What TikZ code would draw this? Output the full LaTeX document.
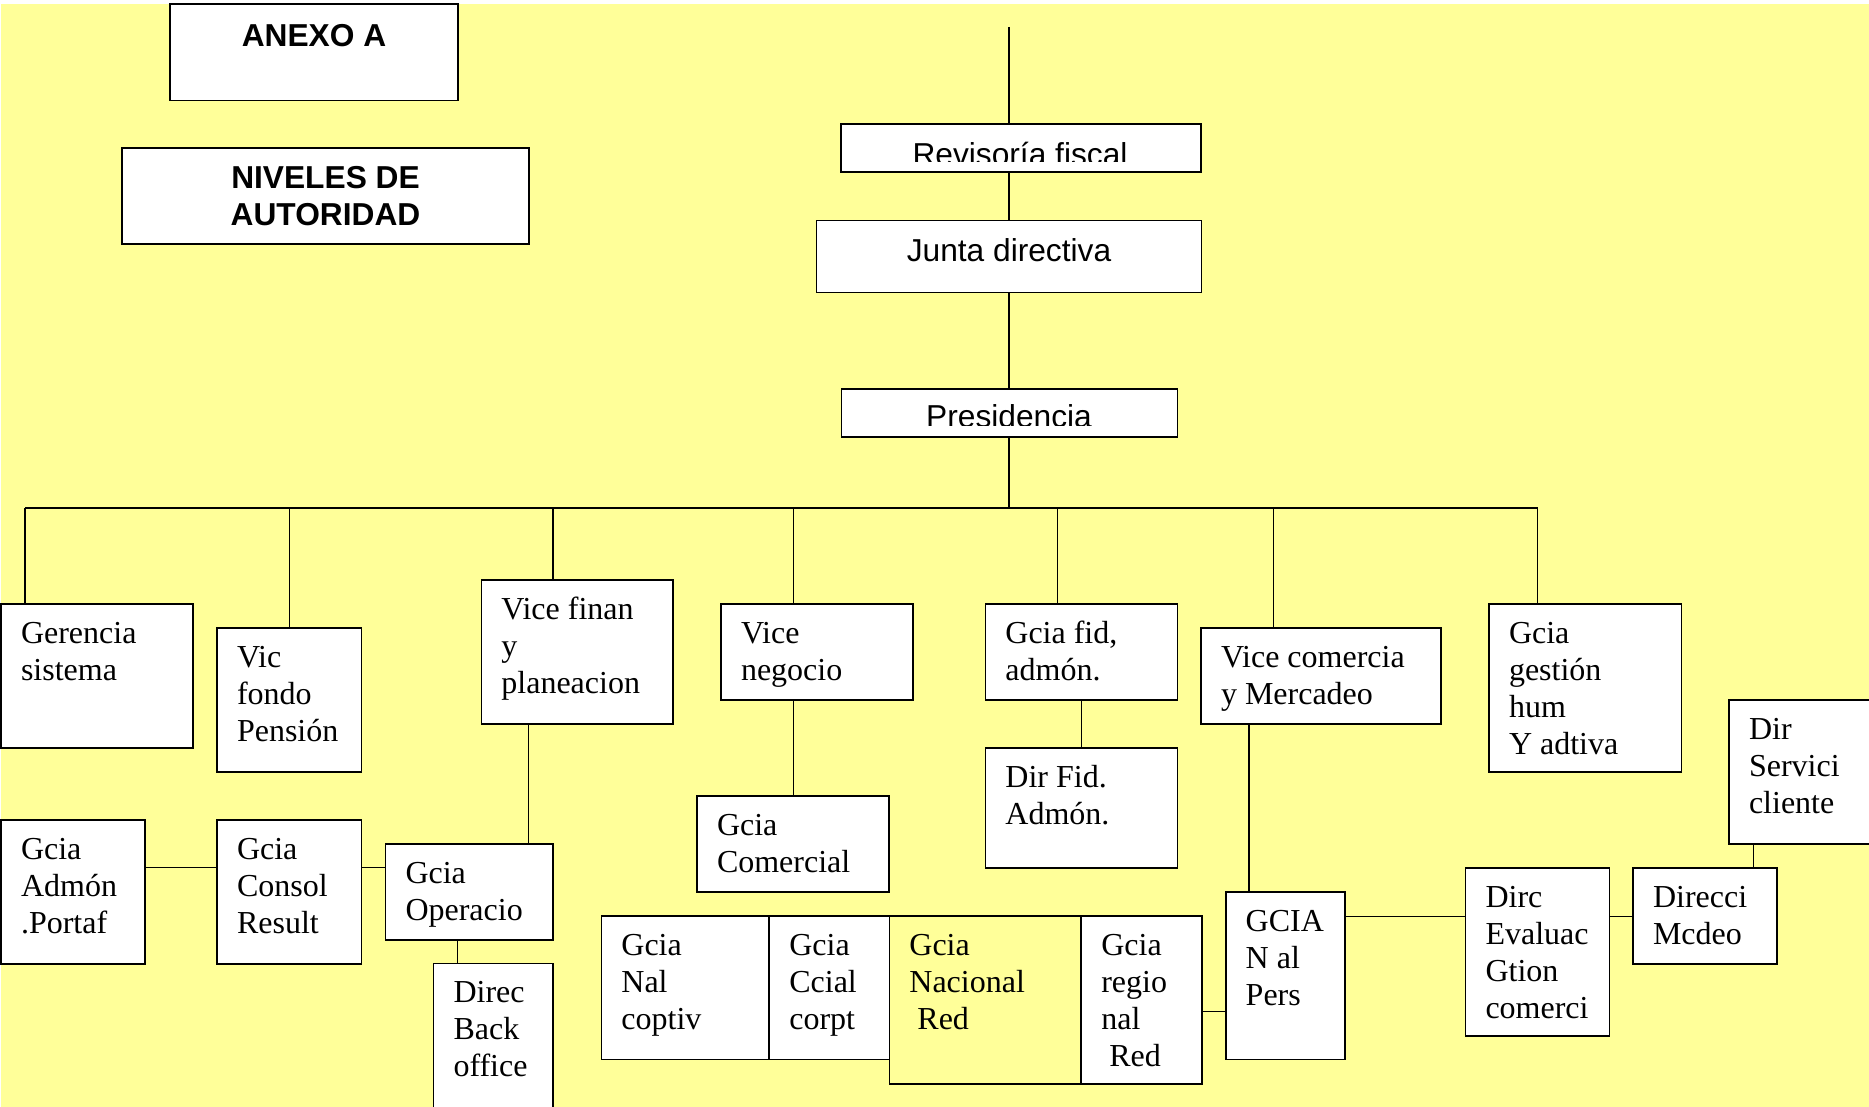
\documentclass[tikz,border=0pt]{standalone}
\usepackage{fontspec}
\setmainfont{Liberation Serif}
\newfontfamily\arialf{Liberation Sans}
\usetikzlibrary{calc}
\definecolor{bgyellow}{HTML}{FFFF99}
\tikzset{
  box/.style={draw=black, line width=1.8pt, fill=white, rectangle, inner sep=0pt, outer sep=0pt, anchor=north west},
  openbox/.style={box, fill=none},
  txt/.style={anchor=north west, inner sep=0pt, outer sep=0pt, align=left, font=\fontsize{32}{37}\selectfont},
  htxt/.style={inner sep=0pt, outer sep=0pt, align=center, font=\arialf\fontsize{31.7}{37.4}\selectfont},
  htxtb/.style={inner sep=0pt, outer sep=0pt, align=center, font=\arialf\bfseries\fontsize{31.7}{37.4}\selectfont},
  conn/.style={draw=black, line width=1.3pt},
}
\newcommand{\fs}{\rule{0pt}{25pt}}
\newcommand{\obox}[7][box]{%
  \node[#1, minimum width=#5pt, minimum height=#6pt] (#2) at (#3,#4) {};
  \node[txt] (#2-t) at ([xshift=20pt,yshift=-14pt]#2.north west) {\fs#7};
}
\begin{document}
\begin{tikzpicture}[x=1pt,y=-1pt]
\useasboundingbox (0,0) rectangle (1869,1107);
\clip (0,0) rectangle (1869,1107);
\fill[white] (0,0) rectangle (1869,1107);
\fill[bgyellow] (1,4) rectangle (1869,1107);

% headings
\node[box, minimum width=288pt, minimum height=96.5pt] (anexo) at (170,4) {};
\node[htxtb, anchor=base] (anexo-t) at (314,46.5) {ANEXO A};
\node[box, minimum width=407pt, minimum height=96pt] (niv) at (122,148) {};
\node[htxtb, anchor=north] (niv-t) at (325.5,163.3) {\fs NIVELES DE\\AUTORIDAD};

% top chain
\node[box, minimum width=360pt, minimum height=48pt] (rev) at (841,124) {};
\begin{scope}
  \clip (841,124) rectangle (1201,161.7);
  \node[htxt, anchor=base] (rev-t) at (1020,165.8) {Revisoría fiscal};
\end{scope}
\node[box, minimum width=385pt, minimum height=72pt] (junta) at (816.5,220.5) {};
\node[htxt, anchor=base] (junta-t) at (1009,261.5) {Junta directiva};
\node[box, minimum width=336pt, minimum height=48pt] (pres) at (841.5,388.6) {};
\begin{scope}
  \clip (841.5,388.6) rectangle (1178,425);
  \node[htxt, anchor=base] (pres-t) at (1009,427.5) {Presidencia};
\end{scope}

% second level
\obox{gs}{1}{604}{192}{144}{Gerencia\\sistema}
\obox{vf}{217}{628}{144.5}{144}{Vic\\fondo\\Pensión}
\obox{vfp}{481.4}{580}{191.3}{144}{Vice finan\\y\\planeacion}
\obox{vn}{721}{604}{192}{96}{Vice\\negocio}
\obox{gf}{985.4}{604}{192}{96}{Gcia fid,\\admón.}
\obox{vc}{1201}{628}{240}{96}{Vice comercia\\y Mercadeo}
\obox{gg}{1489}{604}{192.5}{168}{Gcia\\gestión\\hum\\Y adtiva}
\obox{ds}{1729}{700}{200}{144}{Dir\\Servici\\cliente}

% lower levels
\obox{gc}{697}{796}{192}{96}{Gcia\\Comercial}
\obox{df}{985.4}{748}{192}{120}{Dir Fid.\\Admón.}
\obox{ga}{1}{820}{144}{144}{Gcia\\Admón\\.Portaf}
\obox{gcr}{217}{820}{144.5}{144}{Gcia\\Consol\\Result}
\obox{go}{385.5}{844}{167.3}{96}{Gcia\\Operacio}
\obox{db}{433.5}{963.4}{119.3}{200}{Direc\\Back\\office}
\obox[openbox]{gnr}{889.4}{916}{192}{168}{Gcia\\Nacional\\\hspace*{8pt}Red}
\obox{gnc}{601.4}{916}{168}{143.4}{Gcia\\Nal\\coptiv}
\obox{gcc}{769.3}{916}{120.1}{143.4}{Gcia\\Ccial\\corpt}
\obox{grr}{1081.3}{916}{121}{168}{Gcia\\regio\\nal\\\hspace*{8pt}Red}
\obox{gn}{1225.7}{892}{119.2}{167.4}{GCIA\\N al\\Pers}
\obox{de}{1465.5}{868}{144}{168}{Dirc\\Evaluac\\Gtion\\comerci}
\obox{dm}{1633}{868}{144}{96}{Direcci\\Mcdeo}

% spine
\coordinate (top) at (1009,27);
\coordinate (bus) at (1009,508);
\draw[conn] (top) -- (top |- rev.north);
\draw[conn] (top |- rev.south) -- (top |- junta.north);
\draw[conn] (top |- junta.south) -- (top |- pres.north);
\draw[conn] (top |- pres.south) -- (bus);

% bus and drops
\coordinate (d1) at (25,508);
\coordinate (d2) at (289.6,508);
\coordinate (d3) at (553,508);
\coordinate (d4) at (793.8,508);
\coordinate (d5) at (1057.7,508);
\coordinate (d6) at (1273.8,508);
\coordinate (d7) at (1537.6,508);
\draw[conn] (d1) -- (d7);
\draw[conn] (d1) -- (d1 |- gs.north);
\draw[conn] (d2) -- (d2 |- vf.north);
\draw[conn] (d3) -- (d3 |- vfp.north);
\draw[conn] (d4) -- (d4 |- vn.north);
\draw[conn] (d5) -- (d5 |- gf.north);
\draw[conn] (d6) -- (d6 |- vc.north);
\draw[conn] (d7) -- (d7 |- gg.north);

% other connectors
\coordinate (cx1) at (528.8,0);
\coordinate (cy1) at (0,867.8);
\coordinate (cx2) at (457.4,0);
\coordinate (cx3) at (1249,0);
\coordinate (cy2) at (0,1011.8);
\coordinate (cy3) at (0,916.2);
\coordinate (cx4) at (1753.4,0);
\draw[conn] (cx1 |- vfp.south) -- (cx1 |- go.north);
\draw[conn] (ga.east |- cy1) -- (gcr.west |- cy1);
\draw[conn] (gcr.east |- cy1) -- (go.west |- cy1);
\draw[conn] (cx2 |- go.south) -- (cx2 |- db.north);
\draw[conn] (d4 |- vn.south) -- (d4 |- gc.north);
\draw[conn] (gf.south) -- (gf.south |- df.north);
\draw[conn] (cx3 |- vc.south) -- (cx3 |- gn.north);
\draw[conn] (grr.east |- cy2) -- (gn.west |- cy2);
\draw[conn] (gn.east |- cy3) -- (de.west |- cy3);
\draw[conn] (de.east |- cy3) -- (dm.west |- cy3);
\draw[conn] (cx4 |- dm.north) -- (cx4 |- ds.south);
\end{tikzpicture}
\end{document}
